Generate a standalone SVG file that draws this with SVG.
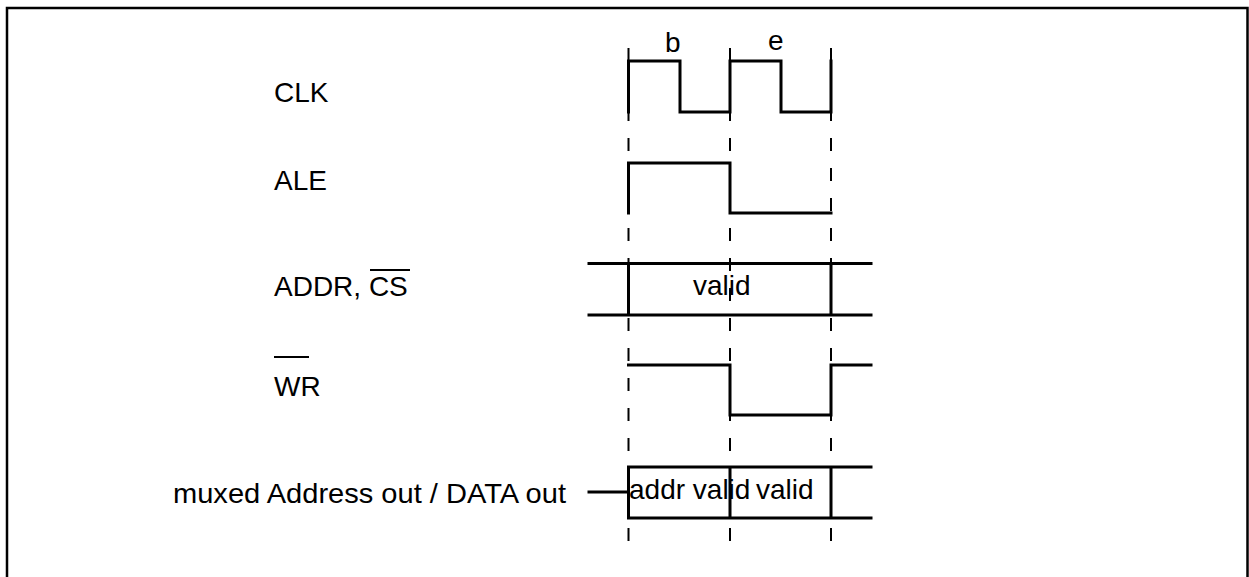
<svg xmlns="http://www.w3.org/2000/svg" width="1249" height="577" viewBox="0 0 1249 577">
<style>
.frame{fill:none;stroke:#000;stroke-width:2.5}
.wave{fill:none;stroke:#000;stroke-width:3;stroke-linecap:square;stroke-linejoin:miter}
.dash{fill:none;stroke:#000;stroke-width:2;stroke-dasharray:13 17}
.lbl{font-family:"Liberation Sans",Arial,sans-serif;font-size:28px;fill:#000}
.ov{stroke:#000;stroke-width:2}
</style>
<rect width="1249" height="577" fill="#fff"/>
<path class="frame" d="M7,580 V8 H1247.5 V580"/>
<g id="connectors">
<line class="dash" x1="628.5" y1="48" x2="628.5" y2="552"/>
<line class="dash" x1="730" y1="48" x2="730" y2="552"/>
<line class="dash" x1="831" y1="48" x2="831" y2="552"/>
</g>
<g id="clk">
<text class="lbl" x="274" y="102">CLK</text>
<path class="wave" d="M628.5,112 V61 H680 V112 H730 V61 H781 V112 H831 V61"/>
<text class="lbl" x="665" y="52" font-size="26">b</text>
<text class="lbl" x="768" y="50" font-size="26">e</text>
</g>
<g id="ale">
<text class="lbl" x="274" y="190">ALE</text>
<path class="wave" d="M628.5,213 V163 H730 V213 H831"/>
</g>
<g id="addr">
<text class="lbl" x="274" y="296">ADDR, CS</text>
<line class="ov" x1="370" y1="270" x2="410" y2="270"/>
<path class="wave" d="M589,263.5 H871 M589,315 H871 M628.5,263.5 V315 M831,263.5 V315"/>
<text class="lbl" x="693" y="295">valid</text>
</g>
<g id="wr">
<text class="lbl" x="274" y="396">WR</text>
<line class="ov" x1="274" y1="357" x2="309" y2="357"/>
<path class="wave" d="M628.5,365 H730 V415 H831 V365 H871"/>
</g>
<g id="mux">
<text class="lbl" x="173" y="503" textLength="393" lengthAdjust="spacingAndGlyphs" font-size="29">muxed Address out / DATA out</text>
<path class="wave" d="M589,492 H628.5 M628.5,467 H871 M628.5,518 H871 M628.5,467 V518 M730,467 V518 M831,467 V518"/>
<text class="lbl" x="629" y="499" font-size="25">addr valid</text>
<text class="lbl" x="756" y="499">valid</text>
</g>
</svg>
